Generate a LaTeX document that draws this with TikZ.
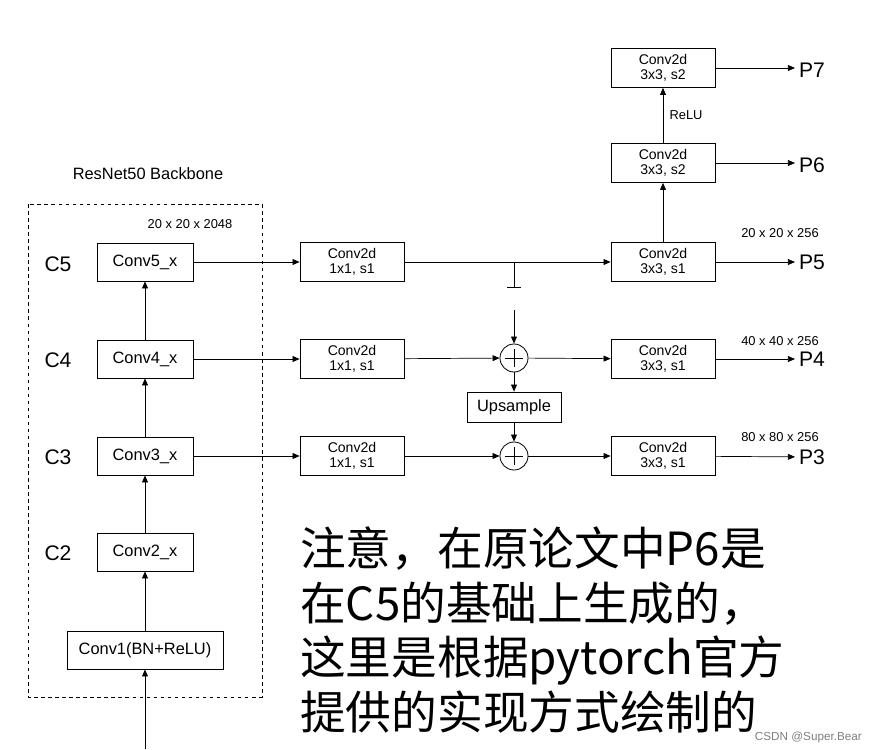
\documentclass[tikz,border=0pt]{standalone}
\usepackage{fontspec}
\setmainfont{Liberation Sans}
\newfontfamily\cjk{Noto Sans CJK SC}
\usetikzlibrary{arrows.meta}
\tikzset{
  blk/.style={draw, line width=0.6pt, minimum width=2.88cm, minimum height=1.14cm, font=\fontsize{14}{15}\selectfont, inner sep=1pt},
  cv/.style={draw, line width=0.6pt, minimum width=3.12cm, minimum height=1.17cm, align=center, font=\fontsize{12}{13}\selectfont, inner sep=1pt},
  add/.style={draw, circle, line width=0.7pt, minimum size=0.84cm, inner sep=0pt,
    path picture={\draw[line width=0.8pt] ([xshift=-2.7mm]path picture bounding box.center) -- ([xshift=2.7mm]path picture bounding box.center)
      ([yshift=-2.7mm]path picture bounding box.center) -- ([yshift=2.7mm]path picture bounding box.center);}},
  lab/.style={font=\fontsize{18}{19}\selectfont},
  dim/.style={font=\fontsize{11}{12}\selectfont},
  arr/.style={-{Triangle[length=6pt,width=5pt]}, line width=0.6pt}
}
\begin{document}
\begin{tikzpicture}[x=0.03cm, y=-0.03cm]
    \useasboundingbox (0,0) rectangle (869,749);
    % backbone
    \draw[dashed, line width=0.5pt] (28,204) rectangle (262,697);
    \node[font=\fontsize{14}{15}\selectfont] (title) at (148,174) {ResNet50 Backbone};
    \node[dim] (d5) at (190,224) {20 x 20 x 2048};
    \node[blk] (conv5) at (145,262) {Conv5\_x};
    \node[blk] (conv4) at (145,359) {Conv4\_x};
    \node[blk] (conv3) at (145,456) {Conv3\_x};
    \node[blk] (conv2) at (145,552) {Conv2\_x};
    \node[blk, minimum width=4.68cm] (conv1) at (145,650) {Conv1(BN+ReLU)};
    \node[lab] (c5) at (58,264) {C5};
    \node[lab] (c4) at (58,360) {C4};
    \node[lab] (c3) at (58,457) {C3};
    \node[lab] (c2) at (58,553) {C2};
    \coordinate (in) at (145,749);
    \draw[arr] (in) -- (conv1);
    \draw[arr] (conv1) -- (conv2);
    \draw[arr] (conv2) -- (conv3);
    \draw[arr] (conv3) -- (conv4);
    \draw[arr] (conv4) -- (conv5);
    % lateral
    \node[cv] (lat5) at (352,262) {Conv2d\\1x1, s1};
    \node[cv] (lat4) at (352,359) {Conv2d\\1x1, s1};
    \node[cv] (lat3) at (352,456) {Conv2d\\1x1, s1};
    \draw[arr] (conv5) -- (lat5);
    \draw[arr] (conv4) -- (lat4);
    \draw[arr] (conv3) -- (lat3);
    \node[add] (add4) at (514,358) {};
    \node[add] (add3) at (514,456) {};
    \node[draw, line width=0.6pt, minimum width=2.82cm, minimum height=0.9cm, font=\fontsize{14}{15}\selectfont, inner sep=1pt] (up) at (514,407) {Upsample};
    % output convs
    \node[cv] (out5) at (663,262) {Conv2d\\3x3, s1};
    \node[cv] (out4) at (663,359) {Conv2d\\3x3, s1};
    \node[cv] (out3) at (663,456) {Conv2d\\3x3, s1};
    \node[cv] (out6) at (663,163) {Conv2d\\3x3, s2};
    \node[cv] (out7) at (663,68) {Conv2d\\3x3, s2};
    \draw[arr] (lat5) -- (out5);
    \coordinate (br) at (514,262);
    \coordinate (gnd) at (514,287);
    \coordinate (gap) at (514,310);
    \draw[line width=0.6pt] (br) -- (gnd);
    \draw[line width=0.8pt] ([xshift=-6]gnd) -- ([xshift=6]gnd);
    \draw[arr] (gap) -- (add4);
    \draw[arr] (lat4) -- (add4);
    \draw[arr] (add4) -- (out4);
    \draw[arr] (add4) -- (up);
    \draw[arr] (up) -- (add3);
    \draw[arr] (lat3) -- (add3);
    \draw[arr] (add3) -- (out3);
    \draw[arr] (out5) -- (out6);
    \draw[arr] (out6) -- node[right, dim, xshift=2pt] {ReLU} (out7);
    % outputs
    \node[lab, anchor=west] (p7) at (795,70) {P7};
    \node[lab, anchor=west] (p6) at (795,165) {P6};
    \node[lab, anchor=west] (p5) at (795,262) {P5};
    \node[lab, anchor=west] (p4) at (795,359) {P4};
    \node[lab, anchor=west] (p3) at (795,457) {P3};
    \draw[arr] (out7) -- (p7.west |- out7);
    \draw[arr] (out6) -- (p6.west |- out6);
    \draw[arr] (out5) -- (p5);
    \draw[arr] (out4) -- (p4);
    \draw[arr] (out3) -- (p3);
    \node[dim] (s5) at (780,233) {20 x 20 x 256};
    \node[dim] (s4) at (780,341) {40 x 40 x 256};
    \node[dim] (s3) at (780,437) {80 x 80 x 256};
    % note
    \node[anchor=west, align=left, font=\cjk\fontsize{39}{46.5}\selectfont, inner sep=0pt] (note) at (300,630)
      {注意，在原论文中P6是\\在C5的基础上生成的，\\这里是根据pytorch官方\\提供的实现方式绘制的};
    \node[anchor=east, text=gray, font=\fontsize{10}{11}\selectfont] (mark) at (866,737) {CSDN @Super.Bear};
\end{tikzpicture}
\end{document}
